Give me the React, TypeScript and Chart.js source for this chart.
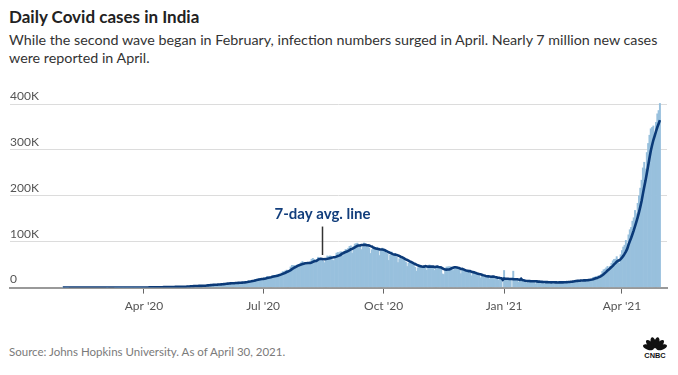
import React, { useEffect, useRef } from 'react';
import { Chart, registerables } from 'chart.js';

Chart.register(...registerables);

const TITLE = 'Daily Covid cases in India';
const SUBTITLE_1 = 'While the second wave began in February, infection numbers surged in April. Nearly 7 million new cases';
const SUBTITLE_2 = 'were reported in April.';
const SOURCE = 'Source: Johns Hopkins University. As of April 30, 2021.';

// Daily new cases in thousands; each array starts on the date in MONTH_STARTS.
const MONTH_STARTS = [
  '2020-01-30', '2020-02-01', '2020-03-01', '2020-04-01', '2020-05-01', '2020-06-01',
  '2020-07-01', '2020-08-01', '2020-09-01', '2020-10-01', '2020-11-01', '2020-12-01',
  '2021-01-01', '2021-02-01', '2021-03-01', '2021-04-01',
];
const jan20 = [0.001, 0];
const feb20 = [0.001, 0.001, 0.001, 0, 0, 0, 0, 0, 0, 0, 0, 0, 0, 0, 0, 0, 0, 0, 0, 0, 0, 0, 0, 0, 0, 0, 0, 0, 0];
const mar20 = [0, 0, 0, 0.02, 0, 0, 0, 0, 0, 0.01, 0.01, 0.01, 0.01, 0.01, 0.02, 0.01, 0.03, 0.01, 0.02, 0.05, 0.08, 0.08, 0.07, 0.1, 0.09, 0.08, 0.1, 0.13, 0.11, 0.19, 0.3];
const apr20 = [0.42, 0.49, 0.56, 0.58, 0.6, 0.5, 0.7, 0.55, 0.8, 0.87, 0.9, 0.8, 1.0, 1.2, 0.9, 1.1, 1.0, 1.1, 1.3, 1.4, 1.5, 1.3, 1.7, 1.4, 1.8, 1.6, 1.5, 1.6, 1.9, 1.8];
const may20 = [2.4, 2.0, 2.6, 3.9, 2.9, 2.7, 3.4, 3.3, 3.3, 4.2, 4.3, 3.6, 3.5, 3.8, 3.9, 4.8, 5.0, 4.6, 6.1, 5.6, 5.7, 6.5, 6.7, 6.8, 6.5, 6.4, 6.6, 7.3, 7.9, 8.3, 8.8];
const jun20 = [8.0, 8.2, 9.6, 9.3, 9.8, 10.4, 9.9, 8.4, 10.0, 11.2, 10.5, 11.4, 11.9, 11.5, 10.0, 11.0, 12.9, 13.6, 13.8, 15.9, 14.8, 14.0, 15.6, 16.9, 18.6, 18.6, 19.9, 19.5, 18.5, 18.6];
const jul20 = [19.1, 21.9, 22.7, 24.9, 23.9, 22.5, 22.2, 25.6, 27.1, 27.0, 28.6, 28.7, 29.1, 28.5, 32.7, 35.5, 34.9, 37.4, 38.9, 37.1, 37.7, 45.7, 49.3, 48.9, 49.0, 47.7, 50.0, 48.0, 52.1, 55.0, 57.7];
const aug20 = [54.7, 52.9, 50.6, 52.1, 52.5, 56.3, 62.5, 64.4, 62.1, 53.6, 60.9, 66.9, 64.6, 65.0, 63.5, 57.9, 55.0, 64.5, 69.7, 68.9, 69.9, 69.2, 61.4, 59.7, 67.2, 75.8, 77.3, 76.5, 78.8, 78.5, 69.9];
const sep20 = [78.2, 83.9, 83.3, 86.4, 90.6, 91.7, 75.8, 89.7, 95.7, 96.6, 97.6, 94.4, 92.1, 83.8, 90.1, 97.9, 96.4, 93.3, 93.0, 86.9, 75.1, 83.3, 86.5, 86.1, 86.0, 88.6, 82.2, 70.6, 80.5, 86.8];
const oct20 = [81.5, 79.5, 75.8, 74.4, 59.9, 72.0, 78.5, 70.5, 73.3, 74.4, 66.7, 55.3, 63.5, 67.7, 63.4, 62.2, 61.9, 55.7, 46.8, 54.0, 55.8, 54.4, 53.4, 50.1, 45.1, 36.5, 43.9, 49.9, 48.6, 48.3, 46.9];
const nov20 = [45.2, 46.0, 38.3, 46.3, 50.2, 47.6, 46.0, 45.7, 38.1, 44.3, 47.9, 44.9, 44.9, 41.1, 30.5, 29.2, 38.6, 45.6, 45.9, 46.2, 46.2, 44.1, 37.9, 44.4, 44.5, 43.2, 41.3, 41.8, 31.1, 38.8];
const dec20 = [36.6, 35.6, 36.6, 36.7, 36.0, 32.9, 26.6, 32.1, 31.5, 29.4, 30.0, 30.3, 27.1, 22.1, 26.4, 24.0, 22.9, 25.2, 26.6, 24.3, 19.5, 23.9, 24.7, 23.1, 18.7, 22.3, 20.0, 16.4, 20.5, 21.8, 0];
const jan21 = [38.0, 19.1, 18.2, 16.5, 18.1, 20.3, 0, 36.5, 18.1, 18.6, 16.3, 12.6, 15.9, 16.9, 15.6, 15.2, 13.8, 10.1, 13.8, 15.2, 14.5, 14.3, 14.8, 14.0, 9.1, 12.7, 11.7, 14.2, 13.1, 13.1, 11.6];
const feb21 = [8.6, 11.0, 12.9, 12.4, 11.7, 12.1, 11.8, 9.1, 9.1, 12.9, 12.1, 12.2, 12.2, 11.6, 9.1, 11.6, 12.9, 13.2, 13.9, 14.2, 14.3, 10.6, 13.7, 16.7, 16.6, 16.5, 16.8, 15.5];
const mar21 = [12.3, 15.0, 17.4, 16.8, 18.3, 18.7, 18.6, 15.4, 17.9, 22.9, 23.3, 24.9, 24.9, 26.3, 24.5, 28.9, 35.9, 39.7, 40.9, 43.8, 46.9, 40.7, 47.3, 53.5, 59.1, 62.3, 62.7, 68.2, 56.2, 53.5, 72.3];
const apr21 = [81.5, 89.1, 93.2, 103.6, 96.6, 115.7, 126.8, 131.9, 145.4, 152.9, 168.9, 161.7, 184.4, 200.7, 217.4, 234.7, 261.5, 273.8, 259.2, 295.0, 314.8, 332.7, 346.8, 349.7, 352.9, 323.0, 360.9, 379.3, 386.5, 401.9];
const MONTH_VALUES = [jan20, feb20, mar20, apr20, may20, jun20, jul20, aug20, sep20, oct20, nov20, dec20, jan21, feb21, mar21, apr21];

const X_TICK_DATES = ['2020-04-01', '2020-07-01', '2020-10-01', '2021-01-01', '2021-04-01'];
const X_TICK_LABELS = ["Apr '20", "Jul '20", "Oct '20", "Jan '21", "Apr '21"];
const Y_TICKS = [0, 100000, 200000, 300000, 400000];
const Y_TICK_LABELS = ['0', '100K', '200K', '300K', '400K'];
const X_RANGE_DAYS = [-11.3, 490.4];
const Y_MAX = 400000;

const ANNOTATION_TEXT = '7-day avg. line';
const ANNOTATION_DATE = '2020-08-15';
const ANNOTATION_Y = [71000, 133000, 159000]; // pointer bottom, pointer top, text centre

const BAR_COLOR = '#98c0dd';
const LINE_COLOR = '#0b3a78';
const FONT = 'Lato, "Open Sans", sans-serif';

const dayOf = (s: string) => (Date.parse(s + 'T00:00:00Z') - Date.parse('2020-01-01T00:00:00Z')) / 86400000;

function buildSeries() {
  const daily: { x: number; y: number }[] = [];
  MONTH_VALUES.forEach((vals, m) => {
    const start = dayOf(MONTH_STARTS[m]);
    vals.forEach((v, i) => daily.push({ x: start + i, y: v * 1000 }));
  });
  const avg = daily.map((p, j) => {
    const from = Math.max(0, j - 6);
    let s = 0;
    for (let k = from; k <= j; k++) s += daily[k].y;
    return { x: p.x, y: s / (j - from + 1) };
  });
  return { daily, avg };
}

const annotationPlugin = {
  id: 'avgAnnotation',
  afterDatasetsDraw(chart: any) {
    const { ctx, scales } = chart;
    const x = Math.round(scales.x.getPixelForValue(dayOf(ANNOTATION_DATE))) + 0.5;
    const y0 = scales.y.getPixelForValue(ANNOTATION_Y[0]);
    const y1 = scales.y.getPixelForValue(ANNOTATION_Y[1]);
    const yt = scales.y.getPixelForValue(ANNOTATION_Y[2]);
    ctx.save();
    ctx.strokeStyle = '#333';
    ctx.lineWidth = 1.5;
    ctx.beginPath();
    ctx.moveTo(x, y0);
    ctx.lineTo(x, y1);
    ctx.stroke();
    ctx.fillStyle = '#123e7c';
    ctx.font = 'bold 15px ' + FONT;
    ctx.textAlign = 'center';
    ctx.textBaseline = 'middle';
    ctx.fillText(ANNOTATION_TEXT, x, yt);
    ctx.restore();
  },
};

function CnbcLogo() {
  const angles = [-72, -43, -14, 14, 43, 72];
  return (
    <svg width="34" height="26" viewBox="0 0 34 26" style={{ position: 'absolute', left: 638, top: 334 }}>
      {angles.map((a, i) => {
        const r = (a * Math.PI) / 180;
        const cx = 17 + 7 * Math.sin(r);
        const cy = 15.5 - 7 * Math.cos(r);
        return <ellipse key={i} cx={cx} cy={cy} rx={2.6} ry={5.6} fill="#111" transform={`rotate(${a} ${cx} ${cy})`} />;
      })}
      <text x="17" y="24" textAnchor="middle" fontFamily="Arial, 'Liberation Sans', sans-serif" fontWeight="900" fontSize="7.4" fill="#111">CNBC</text>
    </svg>
  );
}

export default function App() {
  const ref = useRef<HTMLCanvasElement | null>(null);
  useEffect(() => {
    if (!ref.current) return;
    const { daily, avg } = buildSeries();
    const xTicks = X_TICK_DATES.map(dayOf);
    const chart = new Chart(ref.current, {
      type: 'bar',
      data: {
        datasets: [
          {
            type: 'line',
            data: avg,
            borderColor: LINE_COLOR,
            borderWidth: 2.6,
            pointRadius: 0,
            tension: 0,
            order: 0,
          } as any,
          {
            type: 'bar',
            data: daily,
            backgroundColor: BAR_COLOR,
            borderWidth: 0,
            barPercentage: 1.5,
            categoryPercentage: 1,
            order: 1,
            clip: false,
          } as any,
        ],
      },
      options: {
        animation: false,
        responsive: false,
        maintainAspectRatio: false,
        layout: { padding: { left: 10, right: 11, top: 24, bottom: 2 } },
        plugins: { legend: { display: false }, tooltip: { enabled: false } },
        scales: {
          x: {
            type: 'linear',
            min: X_RANGE_DAYS[0],
            max: X_RANGE_DAYS[1],
            offset: false,
            afterBuildTicks: (s: any) => {
              s.ticks = xTicks.map((v) => ({ value: v }));
            },
            ticks: {
              autoSkip: false,
              maxRotation: 0,
              padding: 5,
              color: '#555',
              font: { family: FONT, size: 12 },
              callback: (v: any) => {
                const i = xTicks.indexOf(Number(v));
                return i >= 0 ? X_TICK_LABELS[i] : '';
              },
            },
            grid: { drawOnChartArea: false, drawTicks: true, tickLength: 6, color: '#666', lineWidth: 1, offset: false },
            border: { display: true, color: '#999', width: 2 },
          },
          y: {
            min: 0,
            max: Y_MAX,
            afterBuildTicks: (s: any) => {
              s.ticks = Y_TICKS.map((v) => ({ value: v }));
            },
            ticks: {
              mirror: true,
              padding: 0,
              labelOffset: -8,
              color: '#555',
              font: { family: FONT, size: 12 },
              callback: (v: any) => {
                const i = Y_TICKS.indexOf(Number(v));
                return i >= 0 ? Y_TICK_LABELS[i] : '';
              },
            },
            grid: { color: '#dcdcdc', drawTicks: false, lineWidth: 1 },
            border: { display: false },
          },
        },
      },
      plugins: [annotationPlugin],
    } as any);
    return () => chart.destroy();
  }, []);

  return (
    <div style={{ position: 'fixed', left: 0, top: 0, width: 678, height: 375, background: '#fff', overflow: 'hidden', fontFamily: FONT }}>
      <div style={{ position: 'absolute', left: 9, top: 7, fontSize: 17, lineHeight: '20px', fontWeight: 700, color: '#222', whiteSpace: 'nowrap' }}>{TITLE}</div>
      <div style={{ position: 'absolute', left: 9, top: 31, fontSize: 14.3, lineHeight: '18px', color: '#333', whiteSpace: 'nowrap' }}>
        {SUBTITLE_1}
        <br />
        {SUBTITLE_2}
      </div>
      <canvas ref={ref} width={678} height={240} style={{ position: 'absolute', left: 0, top: 80, width: 678, height: 240 }} />
      <div style={{ position: 'absolute', left: 9, top: 344, fontSize: 11.5, lineHeight: '16px', color: '#7a7a7a', whiteSpace: 'nowrap' }}>{SOURCE}</div>
      <CnbcLogo />
    </div>
  );
}
